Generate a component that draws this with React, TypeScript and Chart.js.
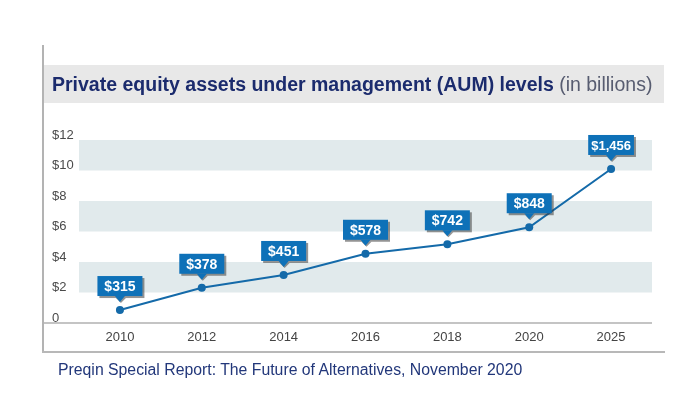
import React, { useEffect, useRef } from "react";
import { Chart, registerables } from "chart.js";

Chart.register(...registerables);

const years = ["2010", "2012", "2014", "2016", "2018", "2020", "2025"];
const aumPlotted = [0.85, 2.31, 3.15, 4.54, 5.16, 6.28, 10.1];
const aumLabels = ["$315", "$378", "$451", "$578", "$742", "$848", "$1,456"];
const yTickLabels = ["0", "$2", "$4", "$6", "$8", "$10", "$12"];
const bandRanges = [
  [2, 4],
  [6, 8],
  [10, 12],
];

const FONT = "'Liberation Sans', Arial, Helvetica, sans-serif";
const BOX_BLUE = "#0e71b8";
const LINE_BLUE = "#146aa9";

const bandsPlugin = {
  id: "bands",
  beforeDatasetsDraw(chart: any) {
    const { ctx, chartArea, scales } = chart;
    const y = scales.y;
    ctx.save();
    ctx.fillStyle = "#e1eaec";
    for (const [lo, hi] of bandRanges) {
      const top = y.getPixelForValue(hi);
      const bot = y.getPixelForValue(lo);
      ctx.fillRect(chartArea.left, top, chartArea.right - chartArea.left, bot - top);
    }
    ctx.strokeStyle = "#c4c4c4";
    ctx.lineWidth = 2;
    ctx.beginPath();
    ctx.moveTo(44, chartArea.bottom);
    ctx.lineTo(chartArea.right, chartArea.bottom);
    ctx.stroke();
    ctx.restore();
  },
};

const calloutPlugin = {
  id: "callouts",
  afterDatasetsDraw(chart: any) {
    const { ctx } = chart;
    const meta = chart.getDatasetMeta(0);
    ctx.save();
    ctx.textAlign = "center";
    ctx.textBaseline = "middle";
    meta.data.forEach((pt: any, i: number) => {
      const label = aumLabels[i];
      ctx.font = `bold ${label.length > 5 ? 13 : 14}px ${FONT}`;
      const w = Math.max(45, ctx.measureText(label).width + 6);
      const h = 20;
      const bottom = pt.y - 14;
      const top = bottom - h;
      const left = pt.x - w / 2;
      ctx.fillStyle = "rgba(60,60,60,0.55)";
      ctx.fillRect(left + 2, top + 2, w, h);
      ctx.beginPath();
      ctx.moveTo(pt.x - 4, bottom + 2);
      ctx.lineTo(pt.x + 6, bottom + 2);
      ctx.lineTo(pt.x + 1, bottom + 7);
      ctx.closePath();
      ctx.fill();
      ctx.fillStyle = BOX_BLUE;
      ctx.fillRect(left, top, w, h);
      ctx.beginPath();
      ctx.moveTo(pt.x - 5, bottom);
      ctx.lineTo(pt.x + 5, bottom);
      ctx.lineTo(pt.x, bottom + 6);
      ctx.closePath();
      ctx.fill();
      ctx.fillStyle = "#ffffff";
      ctx.fillText(label, pt.x, top + h / 2 + 1);
    });
    ctx.restore();
  },
};

export default function App() {
  const canvasRef = useRef<HTMLCanvasElement | null>(null);

  useEffect(() => {
    if (!canvasRef.current) return;
    const chart = new Chart(canvasRef.current, {
      type: "line",
      data: {
        labels: years,
        datasets: [
          {
            data: aumPlotted,
            borderColor: LINE_BLUE,
            backgroundColor: LINE_BLUE,
            borderWidth: 2,
            pointRadius: 4,
            pointBackgroundColor: LINE_BLUE,
            pointBorderWidth: 0,
            tension: 0,
          },
        ],
      },
      options: {
        animation: false,
        responsive: false,
        maintainAspectRatio: false,
        events: [],
        layout: { padding: { left: 52, right: 48, top: 140, bottom: 41 } },
        plugins: {
          legend: { display: false },
          tooltip: { enabled: false },
          title: { display: false },
        },
        scales: {
          x: {
            type: "category",
            offset: true,
            grid: { display: false, drawTicks: false },
            border: { display: false },
            ticks: {
              color: "#444444",
              font: { family: FONT, size: 13 },
              padding: 7,
              maxRotation: 0,
            },
            afterFit: (s: any) => {
              s.height = 30;
            },
          },
          y: {
            min: 0,
            max: 12,
            grid: { display: false, drawTicks: false },
            border: { display: false },
            ticks: {
              stepSize: 2,
              crossAlign: "far",
              padding: 4,
              labelOffset: -5,
              color: "#4a4a4a",
              font: { family: FONT, size: 13 },
              callback: (_v: any, i: number) => yTickLabels[i],
            },
            afterFit: (s: any) => {
              s.width = 27;
            },
          },
        },
      },
      plugins: [bandsPlugin, calloutPlugin],
    });
    return () => chart.destroy();
  }, []);

  return (
    <div
      style={{
        position: "fixed",
        left: 0,
        top: 0,
        width: 700,
        height: 394,
        background: "#ffffff",
        fontFamily: FONT,
        overflow: "hidden",
      }}
    >
      <div style={{ position: "absolute", left: 42, top: 45, width: 2, height: 308, background: "#b3b3b3" }} />
      <div style={{ position: "absolute", left: 42, top: 351, width: 623, height: 2, background: "#b8b8b8" }} />
      <div
        style={{
          position: "absolute",
          left: 44,
          top: 65,
          width: 620,
          height: 38,
          background: "#e8e8e8",
        }}
      />
      <canvas
        ref={canvasRef}
        width={700}
        height={394}
        style={{ position: "absolute", left: 0, top: 0, width: 700, height: 394 }}
      />
      <div
        style={{
          position: "absolute",
          left: 52,
          top: 71,
          whiteSpace: "nowrap",
          fontSize: 19.5,
          lineHeight: "26px",
          color: "#1b2b6d",
        }}
      >
        <span style={{ fontWeight: "bold" }}>Private equity assets under management (AUM) levels</span>
        <span style={{ color: "#575c70" }}> (in billions)</span>
      </div>
      <div
        style={{
          position: "absolute",
          left: 58,
          top: 360,
          whiteSpace: "nowrap",
          fontSize: 15.8,
          lineHeight: "20px",
          color: "#22377a",
        }}
      >
        Preqin Special Report: The Future of Alternatives, November 2020
      </div>
    </div>
  );
}
